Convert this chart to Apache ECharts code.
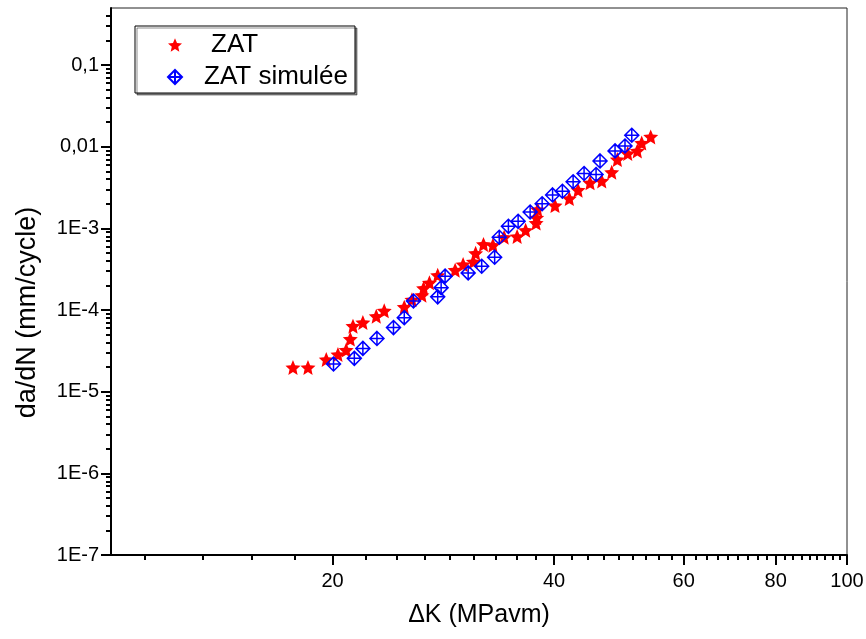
<!DOCTYPE html>
<html>
<head>
<meta charset="utf-8">
<title>da/dN vs ΔK</title>
<script src="https://cdn.jsdelivr.net/npm/echarts@6.0.0/dist/echarts.min.js"></script>
<style>
  html, body { margin: 0; padding: 0; background: #fff; }
  #chart { width: 866px; height: 639px; }
</style>
</head>
<body>
<div id="chart"></div>
<script>
// Crack growth rate versus stress intensity factor range (log-log)
const dK_zat = [17.67, 18.52, 19.61, 20.34, 20.87, 21.14, 21.32, 21.99, 22.93, 23.51,
  25.03, 25.64, 26.45, 26.59, 27.08, 27.79, 29.35, 30.09, 31.08, 31.29,
  32.07, 33.03, 34.21, 35.63, 36.59, 37.81, 37.87, 37.99, 40.11, 41.95,
  43.11, 44.76, 46.43, 47.90, 48.75, 50.36, 51.89, 52.61, 54.11];
const dadN_zat = [1.98e-5, 1.98e-5, 2.48e-5, 2.86e-5, 3.23e-5, 4.41e-5, 6.35e-5, 7.05e-5, 8.41e-5, 9.77e-5,
  1.085e-4, 1.34e-4, 1.52e-4, 1.85e-4, 2.16e-4, 2.67e-4, 3.08e-4, 3.60e-4, 3.91e-4, 4.96e-4,
  6.37e-4, 6.22e-4, 7.80e-4, 7.96e-4, 9.51e-4, 1.16e-3, 1.35e-3, 1.70e-3, 1.90e-3, 2.32e-3,
  2.94e-3, 3.61e-3, 3.81e-3, 4.88e-3, 6.97e-3, 8.26e-3, 8.89e-3, 1.11e-2, 1.32e-2];

const dK_sim = [20.06, 21.41, 21.99, 22.98, 24.20, 25.03, 25.76, 27.79, 28.09, 28.44,
  30.57, 31.89, 33.21, 33.69, 34.67, 35.74, 37.11, 38.53, 39.81, 41.05,
  42.45, 43.93, 45.61, 46.18, 48.40, 49.93, 51.00];
const dadN_sim = [2.18e-5, 2.56e-5, 3.39e-5, 4.49e-5, 6.10e-5, 8.07e-5, 1.29e-4, 1.45e-4, 1.88e-4, 2.60e-4,
  2.85e-4, 3.44e-4, 4.44e-4, 7.80e-4, 1.06e-3, 1.22e-3, 1.59e-3, 2.00e-3, 2.57e-3, 2.85e-3,
  3.73e-3, 4.70e-3, 4.57e-3, 6.70e-3, 8.89e-3, 1.02e-2, 1.38e-2];

const seriesNames = ['ZAT', 'ZAT simulée'];

const xTicks = [20, 40, 60, 80, 100];
const yTicks = [1e-7, 1e-6, 1e-5, 1e-4, 1e-3, 1e-2, 1e-1];
const yTickLabels = ['1E-7', '1E-6', '1E-5', '1E-4', '1E-3', '0,01', '0,1'];

const X_MIN = 10, X_MAX = 100;
const Y_MIN = 1e-7, Y_MAX = 0.5;

const FONT = '"Liberation Sans", Arial, sans-serif';
const log10 = Math.log10;

// minor ticks: eight per 20-unit step on x, 2..9 per decade on y
const xMinor = [];
for (let a = 0; a < X_MAX; a += 20) {
  for (let k = 1; k <= 8; k++) {
    const v = a + 20 * k / 9;
    if (v > X_MIN && v < X_MAX) xMinor.push(log10(v));
  }
}
const yMinor = [];
for (let e = -7; e <= -1; e++) {
  for (let m = 2; m <= 9; m++) {
    const v = m * Math.pow(10, e);
    if (v > Y_MIN && v < Y_MAX) yMinor.push(log10(v));
  }
}

const STAR = 'path://M0,-1L0.27,-0.37L0.951,-0.309L0.436,0.142L0.588,0.809L0,0.46L-0.588,0.809L-0.436,0.142L-0.951,-0.309L-0.27,-0.37Z';
const DIAMOND_CROSS = 'path://M0,-1L1,0L0,1L-1,0Z M0,-1L0,1 M-1,0L1,0';

const axisLineStyle = { color: '#000', width: 2 };
const tickLineStyle = { color: '#000', width: 2 };
const labelStyle = { fontSize: 20, color: '#000', fontFamily: FONT };

const zip = (xs, ys) => xs.map((x, i) => [x, ys[i]]);

const chart = echarts.init(document.getElementById('chart'), null, { renderer: 'canvas' });
chart.setOption({
  animation: false,
  backgroundColor: '#fff',
  grid: {
    left: 111, right: 19, top: 8, bottom: 84,
    show: true, borderColor: '#222', borderWidth: 1, backgroundColor: '#fff',
    containLabel: false, outerBoundsMode: 'none'
  },
  legend: {
    orient: 'vertical',
    left: 135, top: 26,
    padding: [6, 7, 3, 32],
    itemWidth: 14, itemHeight: 14, itemGap: 6,
    borderColor: '#000', borderWidth: 1,
    backgroundColor: '#fff',
    shadowColor: 'rgba(0,0,0,0.45)', shadowOffsetX: 2, shadowOffsetY: 2, shadowBlur: 0,
    selectedMode: false,
    textStyle: { fontSize: 26, lineHeight: 26, color: '#000', fontFamily: FONT },
    data: [
      { name: seriesNames[0], textStyle: { padding: [0, 0, 0, 24] } },
      { name: seriesNames[1], textStyle: { padding: [0, 0, 0, 17] } }
    ]
  },
  xAxis: [
    { // data axis (logarithmic)
      type: 'log', logBase: 10, min: X_MIN, max: X_MAX, show: false
    },
    { // major ticks and labels
      type: 'value', min: log10(X_MIN), max: log10(X_MAX), position: 'bottom',
      axisLine: { show: true, onZero: false, lineStyle: axisLineStyle },
      axisTick: { show: true, customValues: xTicks.map(log10), length: 10, lineStyle: tickLineStyle },
      axisLabel: {
        customValues: xTicks.map(log10), margin: 16, ...labelStyle,
        formatter: v => String(xTicks[xTicks.map(log10).findIndex(t => Math.abs(t - v) < 1e-9)])
      },
      splitLine: { show: false },
      name: 'ΔK (MPavm)', nameLocation: 'middle', nameGap: 48,
      nameTextStyle: { fontSize: 25, color: '#000', fontFamily: FONT }
    },
    { // minor ticks
      type: 'value', min: log10(X_MIN), max: log10(X_MAX), position: 'bottom',
      axisLine: { show: false, onZero: false },
      axisTick: { show: true, customValues: xMinor, length: 5, lineStyle: tickLineStyle },
      axisLabel: { show: false },
      splitLine: { show: false }
    }
  ],
  yAxis: [
    {
      type: 'log', logBase: 10, min: Y_MIN, max: Y_MAX, show: false
    },
    {
      type: 'value', min: log10(Y_MIN), max: log10(Y_MAX), position: 'left',
      axisLine: { show: true, onZero: false, lineStyle: axisLineStyle },
      axisTick: { show: true, customValues: yTicks.map(log10), length: 10, lineStyle: tickLineStyle },
      axisLabel: {
        customValues: yTicks.map(log10), margin: 12, ...labelStyle,
        formatter: v => yTickLabels[yTicks.map(log10).findIndex(t => Math.abs(t - v) < 1e-9)]
      },
      splitLine: { show: false },
      name: 'da/dN (mm/cycle)', nameLocation: 'middle', nameGap: 70,
      nameTextStyle: { fontSize: 27, color: '#000', fontFamily: FONT, padding: [0, 62, 0, 0] }
    },
    {
      type: 'value', min: log10(Y_MIN), max: log10(Y_MAX), position: 'left',
      axisLine: { show: false, onZero: false },
      axisTick: { show: true, customValues: yMinor, length: 5, lineStyle: tickLineStyle },
      axisLabel: { show: false },
      splitLine: { show: false }
    }
  ],
  series: [
    {
      name: seriesNames[0], type: 'scatter', xAxisIndex: 0, yAxisIndex: 0,
      data: zip(dK_zat, dadN_zat),
      symbol: STAR, symbolSize: 15,
      itemStyle: { color: '#ff0000', opacity: 1 }
    },
    {
      name: seriesNames[1], type: 'scatter', xAxisIndex: 0, yAxisIndex: 0,
      data: zip(dK_sim, dadN_sim),
      symbol: DIAMOND_CROSS, symbolSize: 14,
      itemStyle: { color: 'rgba(255,255,255,0)', borderColor: '#0000ff', borderWidth: 1.5, opacity: 1 }
    }
  ]
});
</script>
</body>
</html>
